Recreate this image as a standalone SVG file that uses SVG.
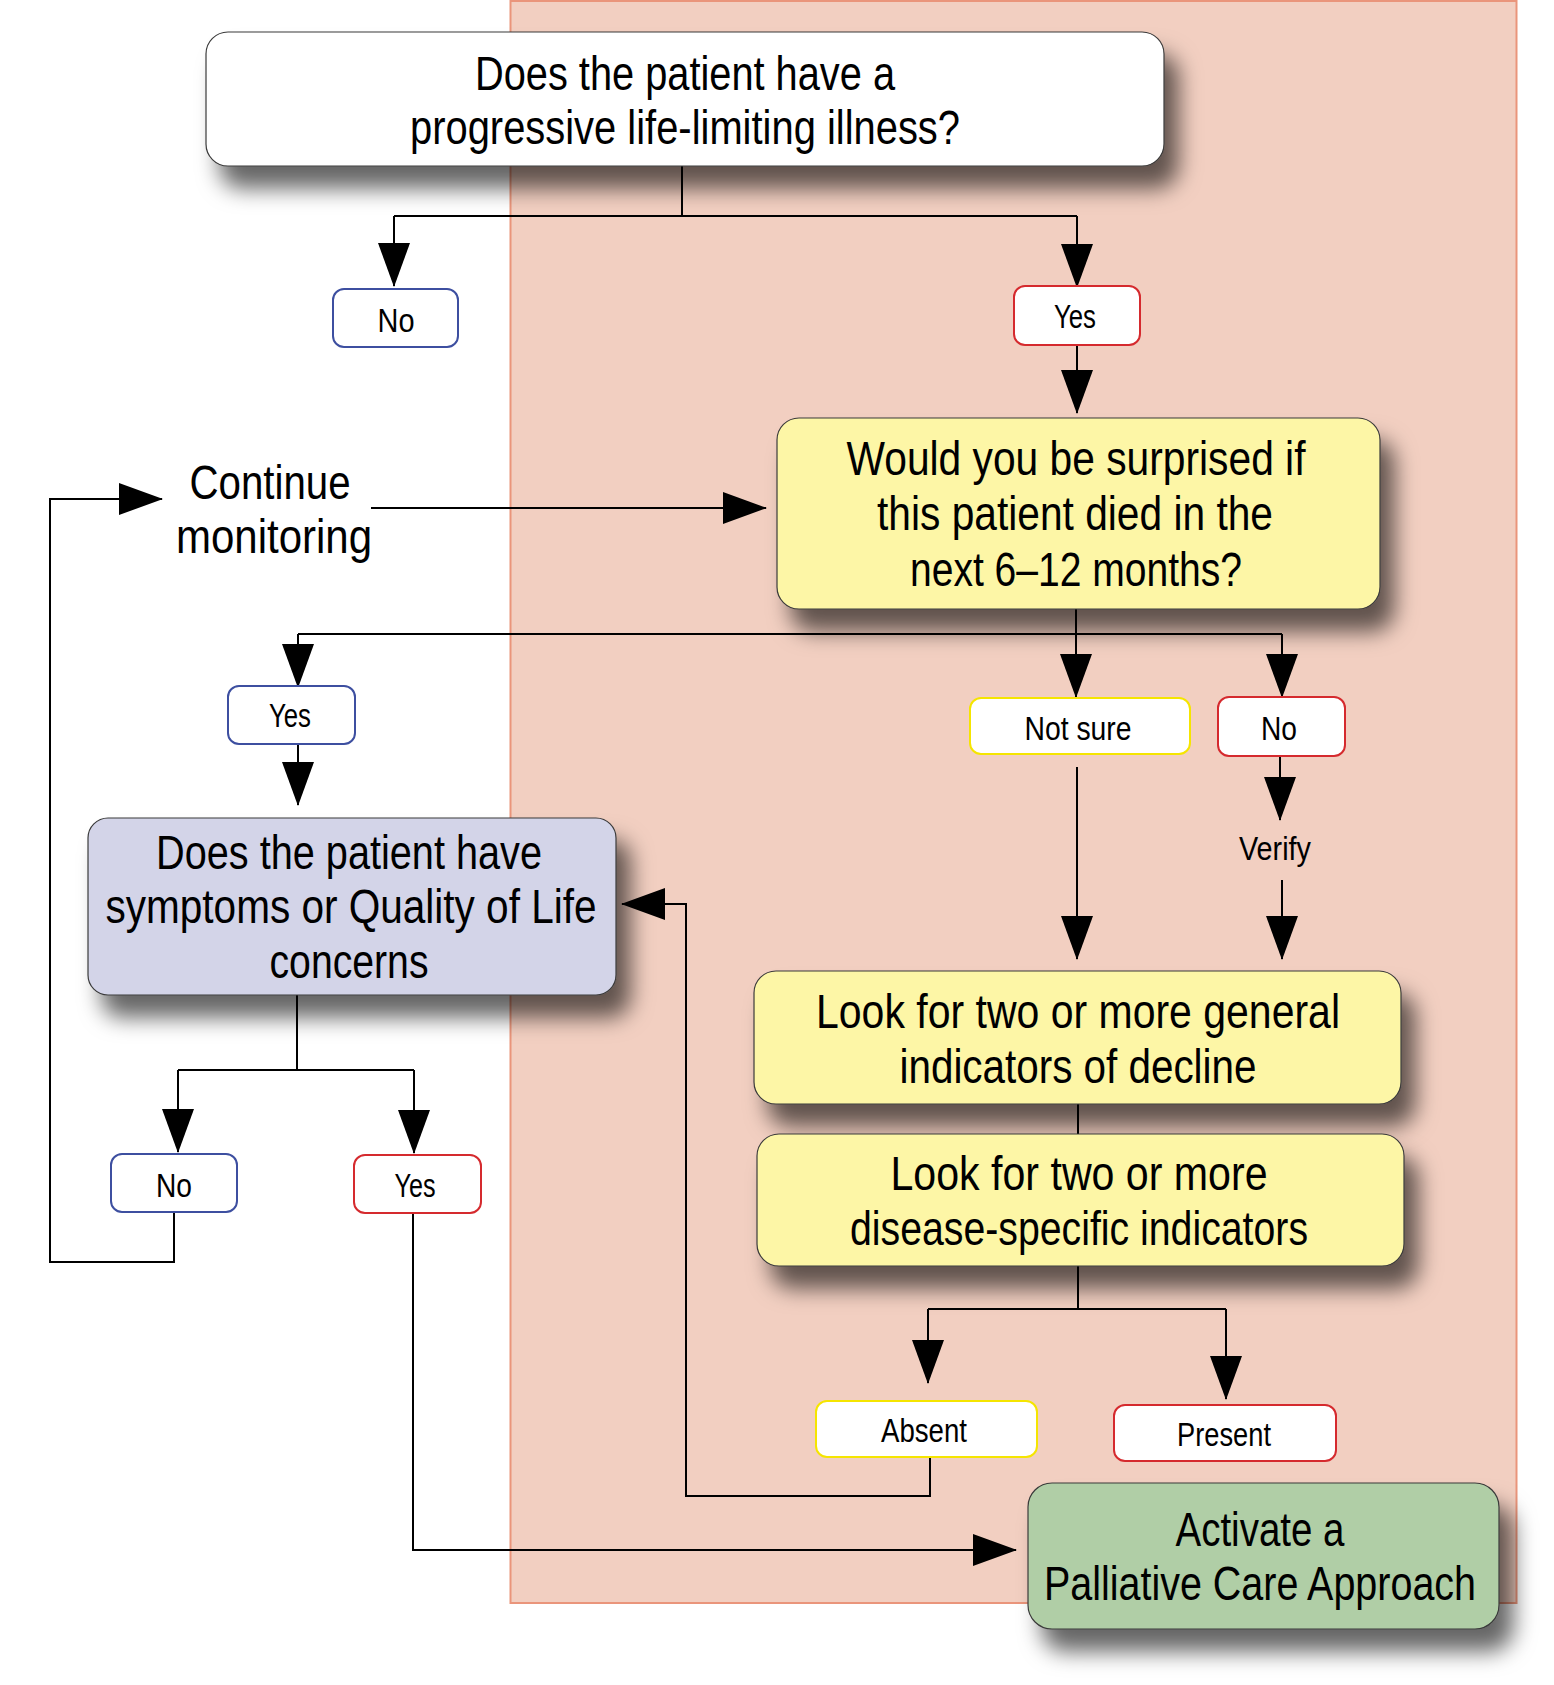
<svg xmlns="http://www.w3.org/2000/svg" width="1554" height="1685" viewBox="0 0 1554 1685">
<style>
.big{font-family:"Liberation Sans",Arial,sans-serif;font-size:48px;fill:#000;text-anchor:middle}
.lbl{font-family:"Liberation Sans",Arial,sans-serif;font-size:33px;fill:#000;text-anchor:middle}
.box{stroke:#3a3a3a;stroke-width:1.2;filter:url(#sh)}
.lb{fill:#fff;stroke-width:2}
.blue{stroke:#3d4fa0}
.red{stroke:#d52a2e}
.yel{stroke:#f5e500}
.con path{fill:none;stroke:#000;stroke-width:2}
</style>
<defs>
<filter id="sh" x="-10%" y="-20%" width="130%" height="170%">
<feDropShadow dx="14" dy="22" stdDeviation="11" flood-color="#000" flood-opacity="0.6"/>
</filter>
<marker id="ah" markerUnits="userSpaceOnUse" viewBox="0 0 44 32" markerWidth="44" markerHeight="32" refX="43" refY="16" orient="auto">
<path d="M0,0 L44,16 L0,32 z" fill="#000"/>
</marker>
</defs>
<rect x="0" y="0" width="1554" height="1685" fill="#fff"/>
<rect id="panel" x="510.5" y="1" width="1006" height="1602" fill="#f2cfc1" stroke="#ea957b" stroke-width="2"/>

<g class="con">
<path d="M682 166 V216 M394 216 H1077"/>
<path d="M394 216 V286" marker-end="url(#ah)"/>
<path d="M1077 216 V287" marker-end="url(#ah)"/>
<path d="M1077 345 V413" marker-end="url(#ah)"/>
<path d="M371 508 H766" marker-end="url(#ah)"/>
<path d="M1076 609 V634 M298 634 H1282"/>
<path d="M298 634 V687" marker-end="url(#ah)"/>
<path d="M1076 634 V697" marker-end="url(#ah)"/>
<path d="M1282 634 V697" marker-end="url(#ah)"/>
<path d="M298 744 V805" marker-end="url(#ah)"/>
<path d="M1077 767 V959" marker-end="url(#ah)"/>
<path d="M1280 756 V820" marker-end="url(#ah)"/>
<path d="M1282 880 V959" marker-end="url(#ah)"/>
<path d="M1078 1104 V1134"/>
<path d="M1078 1266 V1309 M928 1309 H1226"/>
<path d="M928 1309 V1383" marker-end="url(#ah)"/>
<path d="M1226 1309 V1399" marker-end="url(#ah)"/>
<path d="M930 1457 V1496 H686 V904 H622" marker-end="url(#ah)"/>
<path d="M297 995 V1070 M178 1070 H414"/>
<path d="M178 1070 V1152" marker-end="url(#ah)"/>
<path d="M414 1070 V1153" marker-end="url(#ah)"/>
<path d="M174 1212 V1262 H50 V499 H162" marker-end="url(#ah)"/>
<path d="M413 1213 V1550 H1016" marker-end="url(#ah)"/>
</g>

<g id="n-illness">
<rect class="box" x="206" y="32" width="958" height="134" rx="22" fill="#fff"/>
<text class="big" x="685" y="90" textLength="420" lengthAdjust="spacingAndGlyphs">Does the patient have a</text>
<text class="big" x="685" y="144" textLength="550" lengthAdjust="spacingAndGlyphs">progressive life-limiting illness?</text>
</g>

<g id="n-no1">
<rect class="lb blue" x="333" y="289" width="125" height="58" rx="11"/>
<text class="lbl" x="396" y="332" textLength="37" lengthAdjust="spacingAndGlyphs">No</text>
</g>
<g id="n-yes1">
<rect class="lb red" x="1014" y="286" width="126" height="59" rx="11"/>
<text class="lbl" x="1075" y="328" textLength="42" lengthAdjust="spacingAndGlyphs">Yes</text>
</g>

<g id="n-continue">
<text class="big" x="270" y="499" textLength="161" lengthAdjust="spacingAndGlyphs">Continue</text>
<text class="big" x="274" y="553" textLength="196" lengthAdjust="spacingAndGlyphs">monitoring</text>
</g>

<g id="n-surprised">
<rect class="box" x="777" y="418" width="603" height="191" rx="22" fill="#fdf6a6"/>
<text class="big" x="1076" y="475" textLength="459" lengthAdjust="spacingAndGlyphs">Would you be surprised if</text>
<text class="big" x="1075" y="530" textLength="396" lengthAdjust="spacingAndGlyphs">this patient died in the</text>
<text class="big" x="1076" y="586" textLength="332" lengthAdjust="spacingAndGlyphs">next 6–12 months?</text>
</g>

<g id="n-yes2">
<rect class="lb blue" x="228" y="686" width="127" height="58" rx="11"/>
<text class="lbl" x="290" y="727" textLength="42" lengthAdjust="spacingAndGlyphs">Yes</text>
</g>
<g id="n-notsure">
<rect class="lb yel" x="970" y="698" width="220" height="56" rx="11"/>
<text class="lbl" x="1078" y="740" textLength="107" lengthAdjust="spacingAndGlyphs">Not sure</text>
</g>
<g id="n-no2">
<rect class="lb red" x="1218" y="697" width="127" height="59" rx="11"/>
<text class="lbl" x="1279" y="740" textLength="36" lengthAdjust="spacingAndGlyphs">No</text>
</g>
<g id="n-verify">
<text class="lbl" x="1275" y="860" textLength="72" lengthAdjust="spacingAndGlyphs">Verify</text>
</g>

<g id="n-symptoms">
<rect class="box" x="88" y="818" width="528" height="177" rx="20" fill="#d3d4e8"/>
<text class="big" x="349" y="869" textLength="386" lengthAdjust="spacingAndGlyphs">Does the patient have</text>
<text class="big" x="351" y="923" textLength="491" lengthAdjust="spacingAndGlyphs">symptoms or Quality of Life</text>
<text class="big" x="349" y="978" textLength="159" lengthAdjust="spacingAndGlyphs">concerns</text>
</g>

<g id="n-general">
<rect class="box" x="754" y="971" width="647" height="133" rx="22" fill="#fdf6a6"/>
<text class="big" x="1078" y="1028" textLength="524" lengthAdjust="spacingAndGlyphs">Look for two or more general</text>
<text class="big" x="1078" y="1083" textLength="357" lengthAdjust="spacingAndGlyphs">indicators of decline</text>
</g>

<g id="n-disease">
<rect class="box" x="757" y="1134" width="647" height="132" rx="22" fill="#fdf6a6"/>
<text class="big" x="1079" y="1190" textLength="377" lengthAdjust="spacingAndGlyphs">Look for two or more</text>
<text class="big" x="1079" y="1245" textLength="458" lengthAdjust="spacingAndGlyphs">disease-specific indicators</text>
</g>

<g id="n-no3">
<rect class="lb blue" x="111" y="1154" width="126" height="58" rx="11"/>
<text class="lbl" x="174" y="1197" textLength="36" lengthAdjust="spacingAndGlyphs">No</text>
</g>
<g id="n-yes3">
<rect class="lb red" x="354" y="1155" width="127" height="58" rx="11"/>
<text class="lbl" x="415" y="1197" textLength="41" lengthAdjust="spacingAndGlyphs">Yes</text>
</g>

<g id="n-absent">
<rect class="lb yel" x="816" y="1401" width="221" height="56" rx="11"/>
<text class="lbl" x="924" y="1442" textLength="86" lengthAdjust="spacingAndGlyphs">Absent</text>
</g>
<g id="n-present">
<rect class="lb red" x="1114" y="1405" width="222" height="56" rx="11"/>
<text class="lbl" x="1224" y="1446" textLength="94" lengthAdjust="spacingAndGlyphs">Present</text>
</g>

<g id="n-activate">
<rect class="box" x="1028" y="1483" width="471" height="146" rx="24" fill="#b0cea6"/>
<text class="big" x="1260" y="1546" textLength="169" lengthAdjust="spacingAndGlyphs">Activate a</text>
<text class="big" x="1260" y="1600" textLength="432" lengthAdjust="spacingAndGlyphs">Palliative Care Approach</text>
</g>
</svg>
